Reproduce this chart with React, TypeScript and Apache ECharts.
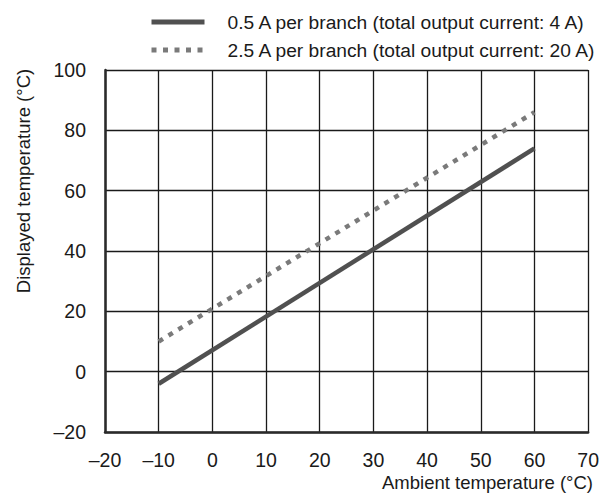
import React, { useEffect, useRef } from "react";
import * as echarts from "echarts";

const xTicks = { min: -20, max: 70, interval: 10 };
const yTicks = { min: -20, max: 100, interval: 20 };

const seriesNames = [
  "0.5 A per branch (total output current: 4 A)",
  "2.5 A per branch (total output current: 20 A)",
];
const ambientTemp = [-10, 60];
const displayed05A = [-4, 74];
const displayed25A = [10, 86];

const xAxisName = "Ambient temperature (°C)";
const yAxisName = "Displayed temperature (°C)";

const FONT = "'Liberation Sans', Arial, Helvetica, sans-serif";
const fmt = (v: number) => String(v).replace("-", "\u2013");

export default function App() {
  const ref = useRef<HTMLDivElement>(null);
  useEffect(() => {
    if (!ref.current) return;
    const chart = echarts.init(ref.current, null, { renderer: "svg" });
    const axisCommon = {
      type: "value" as const,
      axisTick: { show: false },
      axisLine: { show: true, onZero: false, lineStyle: { color: "#2a2a2a", width: 2.5 } },
      splitLine: { show: true, showMinLine: true, showMaxLine: true, lineStyle: { color: "#1a1a1a", width: 1.3 } },
      axisLabel: { color: "#1a1a1a", fontFamily: FONT, fontSize: 19.5, lineHeight: 16, formatter: fmt },
    };
    chart.setOption({
      animation: false,
      backgroundColor: "#ffffff",
      grid: { left: 105, right: 11, top: 70, bottom: 65, containLabel: false },
      legend: {
        orient: "vertical",
        left: 149,
        top: 12,
        padding: 0,
        itemWidth: 53,
        itemHeight: 20,
        itemGap: 8,
        itemStyle: { opacity: 0 },
        lineStyle: { width: 5, type: "inherit" },
        textStyle: { fontFamily: FONT, fontSize: 19.2, color: "#1a1a1a", lineHeight: 20, padding: [0, 0, 0, 18] },
        data: seriesNames,
      },
      xAxis: { ...axisCommon, min: xTicks.min, max: xTicks.max, interval: xTicks.interval, axisLabel: { ...axisCommon.axisLabel, margin: 19.5 } },
      yAxis: { ...axisCommon, min: yTicks.min, max: yTicks.max, interval: yTicks.interval, axisLabel: { ...axisCommon.axisLabel, margin: 19, padding: [8, 0, 0, 0] } },
      graphic: [
        {
          type: "text",
          right: 9,
          top: 473,
          style: { text: xAxisName, fontFamily: FONT, fontSize: 18.5, lineHeight: 16, fill: "#1a1a1a" },
        },
        {
          type: "text",
          x: 23,
          y: 181,
          rotation: Math.PI / 2,
          style: { text: yAxisName, fontFamily: FONT, fontSize: 18.5, fill: "#1a1a1a", align: "center", verticalAlign: "middle" },
        },
      ],
      series: [
        {
          name: seriesNames[0],
          type: "line",
          data: ambientTemp.map((x, i) => [x, displayed05A[i]]),
          symbol: "none",
          lineStyle: { color: "#505050", width: 4.5, cap: "butt" },
          itemStyle: { color: "#505050" },
        },
        {
          name: seriesNames[1],
          type: "line",
          data: ambientTemp.map((x, i) => [x, displayed25A[i]]),
          symbol: "none",
          lineStyle: { color: "#7a7a7a", width: 4.5, type: [5, 6.5], cap: "butt" },
          itemStyle: { color: "#7a7a7a" },
        },
      ],
    });
    return () => chart.dispose();
  }, []);
  return <div ref={ref} style={{ width: 602, height: 497, position: "absolute", left: 0, top: 0 }} />;
}
